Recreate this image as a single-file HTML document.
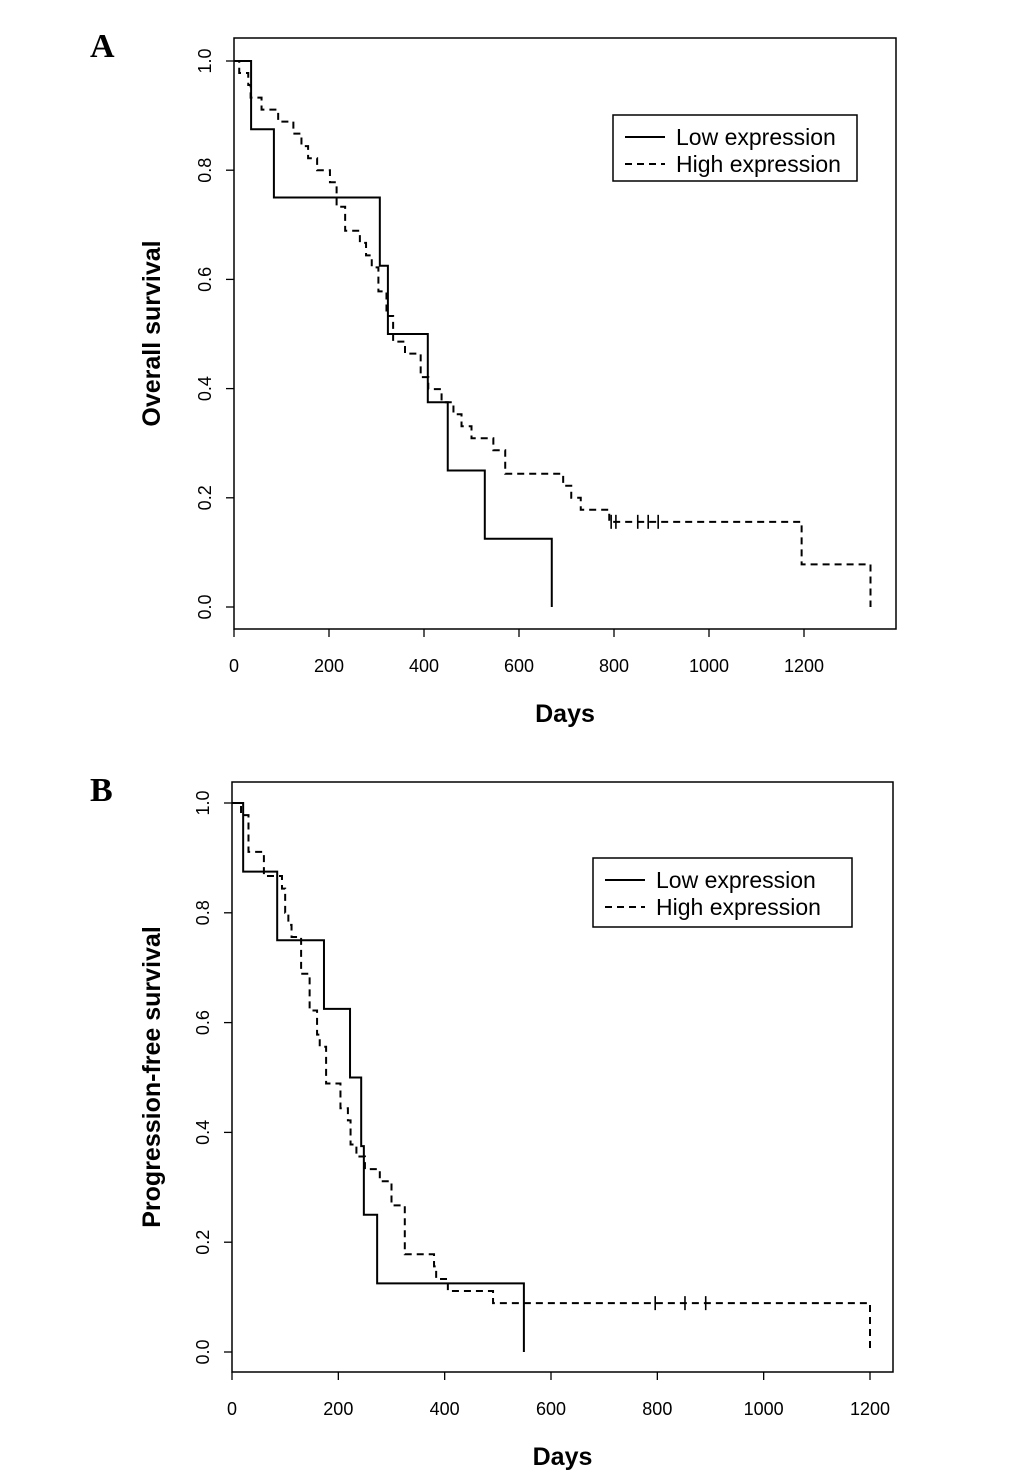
<!DOCTYPE html>
<html><head><meta charset="utf-8">
<style>
html,body{margin:0;padding:0;background:#fff;}
svg{display:block;font-family:"Liberation Sans",Arial,sans-serif;}
</style></head>
<body>
<svg id="fig" width="1033" height="1479" viewBox="0 0 1033 1479">
<text x="90" y="57" font-family="Liberation Serif,serif" font-weight="bold" font-size="34">A</text>
<text x="90" y="801" font-family="Liberation Serif,serif" font-weight="bold" font-size="34">B</text>
</svg>
<script>
// Panel A: overall survival
const aLowTimes = [36, 84, 307, 324, 408, 450, 528, 669];
const aLowSurv = [0.875, 0.75, 0.625, 0.5, 0.375, 0.25, 0.125, 0];
const aHighTimes = [11,30,35,58,93,125,142,156,175,202,216,234,265,278,290,304,321,335,360,393,409,437,462,479,500,546,571,693,710,730,790,1195,1340];
const aHighSurv = [0.978,0.956,0.933,0.911,0.889,0.867,0.844,0.822,0.8,0.778,0.733,0.689,0.667,0.644,0.622,0.578,0.533,0.486,0.464,0.421,0.399,0.375,0.353,0.331,0.309,0.287,0.244,0.222,0.2,0.178,0.156,0.078,0];
const aCensor = [794, 804, 850, 872, 893];
const aCensorSurv = 0.156;
// Panel B: progression-free survival
const bLowTimes = [21, 85, 173, 222, 243, 248, 273, 549];
const bLowSurv = [0.875, 0.75, 0.625, 0.5, 0.375, 0.25, 0.125, 0];
const bHighTimes = [17,31,60,94,100,106,112,130,146,160,165,177,204,218,223,234,250,278,300,325,380,384,406,491,1200];
const bHighSurv = [0.978,0.911,0.867,0.844,0.8,0.778,0.756,0.689,0.622,0.578,0.556,0.489,0.444,0.422,0.378,0.356,0.333,0.311,0.267,0.178,0.156,0.133,0.111,0.089,0];
const bCensor = [796, 852, 891];
const bCensorSurv = 0.089;
const xTicks = [0,200,400,600,800,1000,1200];
const yTicks = [0,0.2,0.4,0.6,0.8,1.0];
const yTickLabels = ["0.0","0.2","0.4","0.6","0.8","1.0"];
const legendLabels = ["Low expression","High expression"];

const NS = "http://www.w3.org/2000/svg";
const svg = document.getElementById('fig');
function mk(tag, attrs, parent){const e=document.createElementNS(NS,tag);for(const k in attrs)e.setAttribute(k,attrs[k]);(parent||svg).appendChild(e);return e;}

function panel(cfg){
  const g = mk('g',{});
  
  
  const X = d => cfg.x0 + d*(cfg.x1200-cfg.x0)/1200;
  const Y = s => cfg.y0 + s*(cfg.y1-cfg.y0);
  const box = mk('rect',{x:cfg.bx0,y:cfg.by0,width:cfg.bx1-cfg.bx0,height:cfg.by1-cfg.by0,fill:'none',stroke:'#000','stroke-width':1.5},g);
  
  
  xTicks.forEach(t=>{
    mk('line',{x1:X(t),x2:X(t),y1:cfg.by1,y2:cfg.by1+8,stroke:'#000','stroke-width':1.3},g);
    const tx = mk('text',{x:X(t),y:cfg.by1+43,'font-size':18,'text-anchor':'middle'},g);
    tx.textContent = t;
    
    
  });
  yTicks.forEach((t,i)=>{
    mk('line',{x1:cfg.bx0,x2:cfg.bx0-8,y1:Y(t),y2:Y(t),stroke:'#000','stroke-width':1.3},g);
    const tx = mk('text',{x:0,y:0,'font-size':18,'text-anchor':'middle',transform:`translate(${cfg.bx0-23},${Y(t)}) rotate(-90)`},g);
    tx.textContent = yTickLabels[i];
    
    
  });
  const xl = mk('text',{x:(cfg.bx0+cfg.bx1)/2,y:cfg.by1+93,'font-size':25,'font-weight':'bold','text-anchor':'middle'},g);
  xl.textContent='Days';
  
  
  const yl = mk('text',{x:0,y:0,'font-size':25,'font-weight':'bold','text-anchor':'middle',transform:`translate(160,${(cfg.by0+cfg.by1)/2}) rotate(-90)`},g);
  yl.textContent=cfg.ylabel;
  
  
  function step(times, surv, dash, nm){
    let d=`M${X(0)},${Y(1)}`;
    times.forEach((t,i)=>{d+=` H${X(t)} V${Y(surv[i])}`;});
    const p=mk('path',{d:d,fill:'none',stroke:'#000','stroke-width':2,'stroke-dasharray':dash?'7,5':'none'},g);
    
    
  }
  step(cfg.lowT,cfg.lowS,false,'low-expression-curve');
  step(cfg.highT,cfg.highS,true,'high-expression-curve');
  cfg.cens.forEach(c=>{
    const l=mk('line',{x1:X(c),x2:X(c),y1:Y(cfg.censS)-7,y2:Y(cfg.censS)+7,stroke:'#000','stroke-width':1.6},g);
    
    
  });
  const lg = mk('g',{},g);
  
  
  mk('rect',{x:cfg.lx0,y:cfg.ly0,width:cfg.lx1-cfg.lx0,height:cfg.ly1-cfg.ly0,fill:'#fff',stroke:'#000','stroke-width':1.5},lg);
  legendLabels.forEach((lab,i)=>{
    const yy = cfg.ly0 + 22 + i*27;
    mk('line',{x1:cfg.lx0+12,x2:cfg.lx0+52,y1:yy,y2:yy,stroke:'#000','stroke-width':2,'stroke-dasharray':i?'7,5':'none'},lg);
    const t=mk('text',{x:cfg.lx0+63,y:yy+8,'font-size':23},lg);
    t.textContent=lab;
    
    
  });
}
panel({name:'panel-a-overall-survival',x0:234,x1200:804,y0:607,y1:61,bx0:234,bx1:896,by0:38,by1:629,
  ylabel:'Overall survival',lowT:aLowTimes,lowS:aLowSurv,highT:aHighTimes,highS:aHighSurv,cens:aCensor,censS:aCensorSurv,
  lx0:613,lx1:857,ly0:115,ly1:181});
panel({name:'panel-b-progression-free-survival',x0:232,x1200:870,y0:1352,y1:803,bx0:232,bx1:893,by0:782,by1:1372,
  ylabel:'Progression-free survival',lowT:bLowTimes,lowS:bLowSurv,highT:bHighTimes,highS:bHighSurv,cens:bCensor,censS:bCensorSurv,
  lx0:593,lx1:852,ly0:858,ly1:927});
</script>
</body></html>
